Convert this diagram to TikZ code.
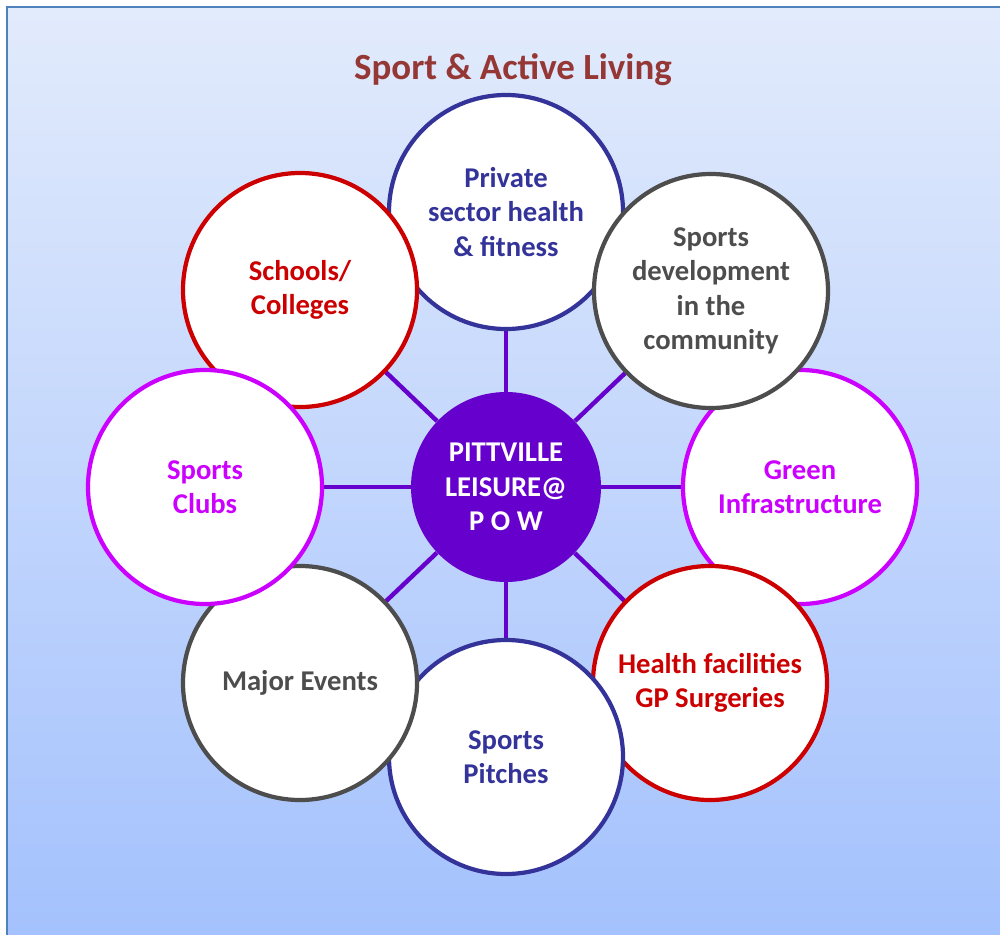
\documentclass[tikz,border=0pt]{standalone}
\usepackage{fontspec}
\setmainfont{Carlito}
\usepackage{tikz}
\usetikzlibrary{positioning,calc}
\usepackage{xcolor}

\definecolor{navy}{HTML}{333399}
\definecolor{redline}{HTML}{CC0000}
\definecolor{greyline}{HTML}{4D4D4D}
\definecolor{magline}{HTML}{CC00FF}
\definecolor{hubfill}{HTML}{6600CC}
\definecolor{titlered}{HTML}{953735}
\definecolor{bgtop}{HTML}{E2EBFC}
\definecolor{bgbottom}{HTML}{A3C1FD}
\definecolor{frame}{HTML}{4F81BD}

\pgfdeclarelayer{backdrop}
\pgfdeclarelayer{spokes}
\pgfsetlayers{backdrop,spokes,main}

\tikzset{
  ring/.style={circle, draw=#1, line width=2.4pt, fill=white, text=#1,
    minimum size=4.68cm, align=center, font=\fontsize{16.3}{19.6}\selectfont\bfseries},
  hub/.style={circle, fill=hubfill, text=white, minimum size=3.8cm,
    align=center, font=\fontsize{16.3}{19.6}\selectfont\bfseries},
  spoke/.style={draw=hubfill, line width=2.5pt}
}

\begin{document}
\begin{tikzpicture}[x=0.2mm,y=-0.2mm]
  \useasboundingbox (0,0) rectangle (1000,935);
  % backdrop
  \begin{pgfonlayer}{backdrop}
    \shade[top color=bgtop, bottom color=bgbottom] (7,7) rectangle (1010,945);
    \draw[frame, line width=0.8pt] (7,945) -- (7,7) -- (1010,7);
  \end{pgfonlayer}

  \node[text=titlered, font=\fontsize{21}{25}\selectfont\bfseries] (title) at (513,70) {Sport \& Active Living};

  \node[hub] (hub) at (506,487) {PITTVILLE\\LEISURE@\\P O W};

  % outer circles, back to front
  \node[ring=navy] (priv) at (506,212) {Private\\sector health\\\& fitness};
  \node[ring=magline] (green) at (800,487) {Green\\Infrastructure};
  \node[ring=greyline] (dev) at (711,291) {Sports\\development\\in the\\community};
  \node[ring=redline] (health) at (710,683) {Health facilities\\GP Surgeries};
  \node[ring=navy] (pitch) at (506,757) {Sports\\Pitches};
  \node[ring=greyline] (major) at (300,683) {Major Events};
  \node[ring=redline] (school) at (300,290) {Schools/\\Colleges};
  \node[ring=magline] (clubs) at (205,487) {Sports\\Clubs};

  \begin{pgfonlayer}{spokes}
    \foreach \n in {priv,green,dev,health,pitch,major,school,clubs}
      \draw[spoke] (hub) -- (\n.center);
  \end{pgfonlayer}
\end{tikzpicture}
\end{document}
